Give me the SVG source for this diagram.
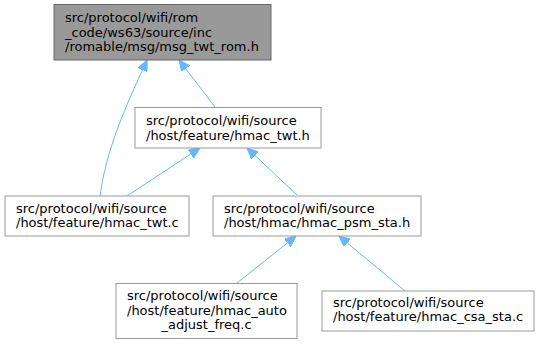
<svg xmlns="http://www.w3.org/2000/svg" width="539" height="344" viewBox="0 0 539 344">
<style>
.n rect{fill:#ffffff;stroke:#999999;stroke-width:1}
#node1 rect{fill:#999999;stroke:#666666}
text{font-family:"DejaVu Sans","Liberation Sans",sans-serif;font-size:13px;fill:#000000}
.e{fill:none;stroke:#63b8ff;stroke-width:1}
</style>
<defs>
<marker id="ah" viewBox="0 0 11 10" refX="0" refY="5" markerUnits="userSpaceOnUse" markerWidth="11" markerHeight="10" orient="auto">
<path d="M0,0 L11,5 L0,10 z" fill="#63b8ff" stroke="#63b8ff"/>
</marker>
</defs>
<rect width="539" height="344" fill="#ffffff"/>
<g id="edges">
<path class="e" d="M215,107 L185.7,68.7" marker-end="url(#ah)"/>
<path class="e" d="M100,196 C106,150 126,106 142.5,70" marker-end="url(#ah)"/>
<path class="e" d="M127,196 L190.8,154" marker-end="url(#ah)"/>
<path class="e" d="M297,195 L255,155.5" marker-end="url(#ah)"/>
<path class="e" d="M237,283 L287.4,242.9" marker-end="url(#ah)"/>
<path class="e" d="M405,291 L347.4,243" marker-end="url(#ah)"/>
</g>
<g id="node1" class="n">
<rect x="54" y="4.5" width="217" height="55.5"/>
<text x="65" y="22">src/protocol/wifi/rom</text>
<text x="65" y="36.5">_code/ws63/source/inc</text>
<text x="65" y="51">/romable/msg/msg_twt_rom.h</text>
</g>
<g id="node2" class="n">
<rect x="135" y="107.5" width="186" height="40.5"/>
<text x="146" y="125">src/protocol/wifi/source</text>
<text x="146" y="139.5">/host/feature/hmac_twt.h</text>
</g>
<g id="node3" class="n">
<rect x="5" y="196" width="184" height="40"/>
<text x="16" y="212.5">src/protocol/wifi/source</text>
<text x="16" y="227">/host/feature/hmac_twt.c</text>
</g>
<g id="node4" class="n">
<rect x="213" y="196" width="208" height="40"/>
<text x="224" y="212.5">src/protocol/wifi/source</text>
<text x="224" y="227">/host/hmac/hmac_psm_sta.h</text>
</g>
<g id="node5" class="n">
<rect x="116" y="283.5" width="181" height="55"/>
<text x="127" y="300">src/protocol/wifi/source</text>
<text x="127" y="314.5">/host/feature/hmac_auto</text>
<text x="206.5" y="329" text-anchor="middle">_adjust_freq.c</text>
</g>
<g id="node6" class="n">
<rect x="322" y="291" width="212" height="40"/>
<text x="333" y="306.5">src/protocol/wifi/source</text>
<text x="333" y="321">/host/feature/hmac_csa_sta.c</text>
</g>
</svg>
